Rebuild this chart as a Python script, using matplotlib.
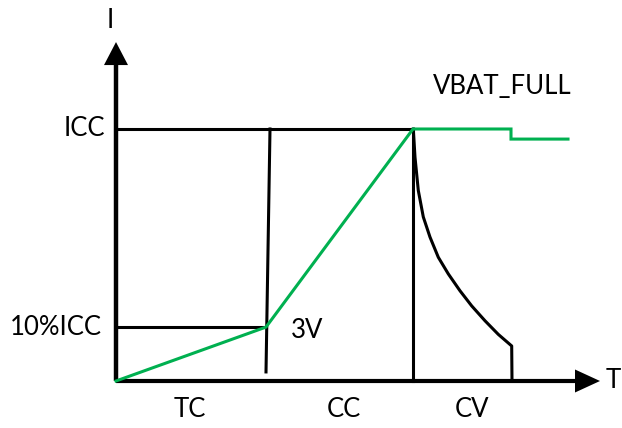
import matplotlib
matplotlib.use("Agg")
import matplotlib.pyplot as plt
from matplotlib.patches import Polygon

plt.rcParams['font.family'] = ['Lato', 'DejaVu Sans']

# ---- data (time units, current normalised to ICC = 1) ----
t_tc_end = 15.0      # end of trickle charge (3V)
t_tc_top = 15.4      # top of slightly slanted TC divider
t_cc_end = 29.7      # end of constant current
t_axis_max = 48.4
i_axis_max = 1.345
icc = 1.0
icc10 = 0.214
divider_bottom = 0.036

green_t = [0.0, t_tc_end, t_cc_end, 39.5, 39.5, 45.2]
green_i = [0.0, icc10, icc, icc, 0.96, 0.96]

cv_t = [29.73, 29.9, 30.23, 30.73, 31.4, 32.23, 33.23, 34.4, 35.57, 36.9,
        38.23, 39.57, 39.6]
cv_i = [1.0, 0.888, 0.756, 0.651, 0.571, 0.491, 0.425, 0.358, 0.298, 0.239,
        0.185, 0.139, 0.0]

# ---- figure ----
W, H = 622, 428
fig = plt.figure(figsize=(W / 100, H / 100), dpi=100)
ax = fig.add_axes([0, 0, 1, 1])
sx, sy = 10.0, 252.0            # px per unit
ox, oy = 116, 381               # origin pixel
ax.set_xlim(-ox / sx, (W - ox) / sx)
ax.set_ylim(-(H - oy) / sy, oy / sy)
ax.axis('off')

black = '#000000'
green = '#00B050'
lw = 2.2

# axes
ax.plot([0, t_axis_max - 2.2], [0, 0], color=black, lw=3.0, solid_capstyle='butt')
ax.plot([0, 0], [0, i_axis_max - 0.08], color=black, lw=3.2, solid_capstyle='butt')
hl_x, hw_x = 2.5, 11.5 / sy
ax.add_patch(Polygon([[t_axis_max - hl_x, -hw_x], [t_axis_max, 0], [t_axis_max - hl_x, hw_x]],
                     closed=True, color=black, lw=0))
hl_y, hw_y = 23 / sy, 1.2
ax.add_patch(Polygon([[-hw_y, i_axis_max - hl_y], [0, i_axis_max], [hw_y, i_axis_max - hl_y]],
                     closed=True, color=black, lw=0))

# black reference lines
ax.plot([0, t_cc_end], [icc, icc], color=black, lw=lw)
ax.plot([0, t_tc_end], [icc10, icc10], color=black, lw=lw)
ax.plot([t_tc_top, t_tc_end], [icc, divider_bottom], color=black, lw=lw)
ax.plot([t_cc_end, t_cc_end], [icc, 0], color=black, lw=lw)
ax.plot(cv_t, cv_i, color=black, lw=lw, solid_joinstyle='round')

# green charge curve
ax.plot(green_t, green_i, color=green, lw=lw, solid_joinstyle='miter')

# labels
fs = 18.5
ax.text(-1.1, icc, 'ICC', ha='right', va='center', fontsize=fs)
ax.text(-1.4, icc10, '10%ICC', ha='right', va='center', fontsize=fs)
ax.text(t_tc_end + 2.5, icc10 - 0.012, '3V', ha='left', va='center', fontsize=fs)
ax.text(31.7, 1.168, 'VBAT_FULL', ha='left', va='center', fontsize=fs)
ax.text(-0.6, 1.43, 'I', ha='center', va='center', fontsize=fs)
ax.text(t_axis_max + 0.6, 0, 'T', ha='left', va='center', fontsize=fs)
ax.text(7.4, -0.115, 'TC', ha='center', va='center', fontsize=fs)
ax.text(22.8, -0.115, 'CC', ha='center', va='center', fontsize=fs)
ax.text(35.6, -0.115, 'CV', ha='center', va='center', fontsize=fs)

fig.savefig('out.png', dpi=100)
